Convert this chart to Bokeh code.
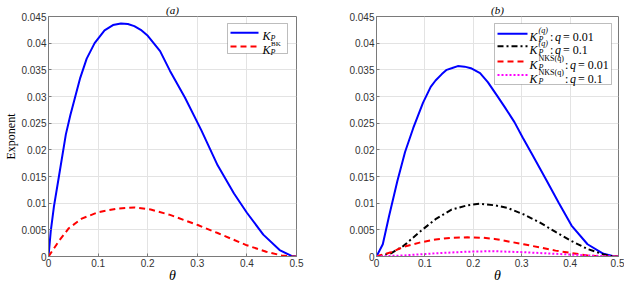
from bokeh.plotting import figure
from bokeh.layouts import row
from bokeh.models import Range1d, FixedTicker, Label, BoxAnnotation
from bokeh.embed import file_html
from bokeh.resources import INLINE

# ---------------- data ----------------
x_ticks = [0, 0.1, 0.2, 0.3, 0.4, 0.5]
x_tick_labels = ["0", "0.1", "0.2", "0.3", "0.4", "0.5"]
y_ticks = [0, 0.005, 0.01, 0.015, 0.02, 0.025, 0.03, 0.035, 0.04, 0.045]
y_tick_labels = ["0", "0.005", "0.01", "0.015", "0.02", "0.025", "0.03", "0.035", "0.04", "0.045"]

# panel (a)
a_kp_theta = [0, 0.0045, 0.011, 0.021, 0.035, 0.044, 0.054, 0.064, 0.077, 0.093, 0.113, 0.13, 0.146,
              0.16, 0.173, 0.186, 0.199, 0.225, 0.245, 0.275, 0.308, 0.341, 0.374, 0.400, 0.433, 0.466, 0.49, 0.5]
a_kp_val = [0, 0.0047, 0.0094, 0.015, 0.0229, 0.0265, 0.030, 0.0335, 0.0371, 0.040, 0.0424, 0.0434, 0.0437,
            0.0436, 0.0432, 0.0425, 0.0415, 0.0385, 0.0348, 0.0298, 0.0237, 0.0171, 0.0118, 0.0082, 0.0041, 0.0012, 0.0001, 0]
a_bk_theta = [0, 0.021, 0.041, 0.067, 0.1, 0.14, 0.173, 0.206, 0.245, 0.301, 0.341, 0.4, 0.439, 0.47, 0.49, 0.5]
a_bk_val = [0, 0.0029, 0.0053, 0.0071, 0.0083, 0.0090, 0.0092, 0.0088, 0.0078, 0.0059, 0.0044, 0.0021, 0.0009, 0.0002, 0, 0]

# panel (b)
b_q001_theta = [0, 0.013, 0.026, 0.043, 0.059, 0.076, 0.096, 0.112, 0.122, 0.135, 0.145, 0.155, 0.168, 0.182,
                0.195, 0.214, 0.23, 0.248, 0.265, 0.285, 0.302, 0.320, 0.350, 0.377, 0.403, 0.436, 0.469, 0.492, 0.5]
b_q001_val = [0, 0.0023, 0.0076, 0.0141, 0.0196, 0.0241, 0.0288, 0.0318, 0.033, 0.0342, 0.0350, 0.0353, 0.0357,
              0.0356, 0.0353, 0.0344, 0.0327, 0.0303, 0.0280, 0.0252, 0.0223, 0.0194, 0.0145, 0.0100, 0.0058,
              0.0023, 0.0005, 0, 0]
b_q01_theta = [0, 0.03, 0.056, 0.089, 0.122, 0.155, 0.188, 0.214, 0.244, 0.271, 0.304, 0.337, 0.37, 0.403,
               0.436, 0.469, 0.49, 0.5]
b_q01_val = [0, 0.0006, 0.002, 0.0046, 0.007, 0.0088, 0.0096, 0.0099, 0.0096, 0.0091, 0.0079, 0.0064, 0.0046,
             0.0029, 0.0014, 0.0004, 0, 0]
b_nks001_theta = [0, 0.03, 0.056, 0.089, 0.122, 0.155, 0.188, 0.221, 0.244, 0.304, 0.37, 0.436, 0.47, 0.5]
b_nks001_val = [0, 0.0008, 0.0018, 0.0026, 0.0032, 0.0035, 0.0036, 0.0035, 0.0033, 0.0023, 0.0011, 0.0002, 0, 0]
b_nks01_theta = [0, 0.056, 0.122, 0.188, 0.24, 0.304, 0.37, 0.436, 0.49, 0.5]
b_nks01_val = [0, 0.0002, 0.0006, 0.0009, 0.001, 0.0008, 0.0005, 0.0002, 0, 0]

SERIF = "Liberation Serif"
SANS = "Liberation Sans"
AX_COLOR = "#7a7a7a"
TICK_TEXT = "#333333"
FIG_H = 285
TOP = 15           # frame top (canvas px)
EST_FRAME_H = 242  # approximate frame height, only used to place legend swatches


def make_fig(title, width, left, right, ylabel=None):
    p = figure(width=width, height=FIG_H, x_range=Range1d(0, 0.5), y_range=Range1d(0, 0.045),
               output_backend="svg", toolbar_location=None,
               min_border_left=left, min_border_right=right, min_border_top=TOP, min_border_bottom=0)
    p.title.text = title
    p.title.align = "center"
    p.title.text_font = SERIF
    p.title.text_font_style = "italic"
    p.title.text_font_size = "11px"
    p.title.text_color = "#000000"
    p.title.standoff = 2
    p.title.offset = 0
    p.outline_line_color = AX_COLOR
    p.outline_line_width = 1
    for ax in (p.xaxis[0], p.yaxis[0]):
        ax.axis_line_color = AX_COLOR
        ax.major_tick_line_color = AX_COLOR
        ax.major_tick_in = 3
        ax.major_tick_out = 0
        ax.minor_tick_line_color = None
        ax.major_label_text_font = SANS
        ax.major_label_text_font_size = "10px"
        ax.major_label_text_color = TICK_TEXT
        ax.major_label_standoff = 2
    p.xaxis.ticker = FixedTicker(ticks=x_ticks)
    p.yaxis.ticker = FixedTicker(ticks=y_ticks)
    p.xaxis.major_label_overrides = dict(zip(x_ticks, x_tick_labels))
    p.yaxis.major_label_overrides = dict(zip(y_ticks, y_tick_labels))
    p.xaxis.axis_label = "θ"
    p.xaxis.axis_label_text_font = SERIF
    p.xaxis.axis_label_text_font_style = "italic"
    p.xaxis.axis_label_text_font_size = "14px"
    p.xaxis.axis_label_text_color = "#000000"
    p.xaxis.axis_label_standoff = -2
    if ylabel:
        p.yaxis.axis_label = ylabel
        p.yaxis.axis_label_text_font = SERIF
        p.yaxis.axis_label_text_font_style = "normal"
        p.yaxis.axis_label_text_font_size = "12px"
        p.yaxis.axis_label_text_color = "#000000"
        p.yaxis.axis_label_standoff = 0
    p.xgrid.ticker = FixedTicker(ticks=x_ticks)
    p.ygrid.ticker = FixedTicker(ticks=y_ticks)
    p.grid.grid_line_color = "#e3e3e3"
    p.grid.grid_line_width = 1
    return p


def txt(p, x, y, s, size, style="italic"):
    # x, y in canvas pixels (y downwards); y is the text baseline
    p.add_layout(Label(x=x, y=y, x_units="canvas", y_units="canvas", text=s, text_font=SERIF,
                       text_font_size=size, text_font_style=style, text_color="#000000",
                       text_align="left", text_baseline="alphabetic"))


def legend_box(p, l, r, t, b):
    p.add_layout(BoxAnnotation(left=l, right=r, top=t, bottom=b, left_units="canvas", right_units="canvas",
                               top_units="canvas", bottom_units="canvas", fill_color="white", fill_alpha=1,
                               line_color="#262626", line_width=1, level="underlay"))


def swatch(p, frame_left, frame_w, x1, x2, y, **kw):
    # legend sample line, converted from canvas px to data units
    xd = [(x1 - frame_left) / frame_w * 0.5, (x2 - frame_left) / frame_w * 0.5]
    yd = 0.045 * (1 - (y - TOP) / EST_FRAME_H)
    p.line(xd, [yd, yd], line_width=2, **kw)


# ---------------- panel (a) ----------------
WA, LA, RA = 310, 48, 14
pa = make_fig("(a)", WA, LA, RA, ylabel="Exponent")
pa.line(a_kp_theta, a_kp_val, line_color="#0000ff", line_width=2)
pa.line(a_bk_theta, a_bk_val, line_color="#ff0000", line_width=2, line_dash="6 4")
fr = WA - RA
bl, bt = fr - 9 - 60, TOP + 8
legend_box(pa, bl, fr - 9, bt, bt + 30)
rows_a = [bt + 8.3, bt + 22.3]
swatch(pa, LA, WA - LA - RA, bl + 3, bl + 31, rows_a[0], line_color="#0000ff")
swatch(pa, LA, WA - LA - RA, bl + 3, bl + 31, rows_a[1], line_color="#ff0000", line_dash="6 4")
kx = bl + 35
for c in rows_a:
    txt(pa, kx, c + 4, "K", "12px")
    txt(pa, kx + 8, c + 6.5, "P", "8px")
txt(pa, kx + 8.5, rows_a[1] - 1.5, "BK", "7px", style="normal")

# ---------------- panel (b) ----------------
WB, LB, RB = 314, 66, 6
pb = make_fig("(b)", WB, LB, RB)
pb.line(b_q001_theta, b_q001_val, line_color="#0000ff", line_width=2)
pb.line(b_q01_theta, b_q01_val, line_color="#000000", line_width=2, line_dash="6 3 2 3")
pb.line(b_nks001_theta, b_nks001_val, line_color="#ff0000", line_width=2, line_dash="6 4")
pb.line(b_nks01_theta, b_nks01_val, line_color="#ff00ff", line_width=2, line_dash="2 2")
fr = WB - RB
bl, bt = fr - 7 - 117, TOP + 8
legend_box(pb, bl, fr - 7, bt, bt + 61)
rows_b = [bt + 9.4, bt + 22, bt + 37.4, bt + 51]
styles_b = [dict(line_color="#0000ff"), dict(line_color="#000000", line_dash="6 3 2 3"),
            dict(line_color="#ff0000", line_dash="6 4"), dict(line_color="#ff00ff", line_dash="2 2")]
texts_b = [("(q)", 9.4, "= 0.01"), ("(q)", 9.4, "= 0.1"), ("NKS(q)", 24.5, "= 0.01"), ("NKS(q)", 24.5, "= 0.1")]
kx = bl + 35
for c, st, (sup, w, rest) in zip(rows_b, styles_b, texts_b):
    swatch(pb, LB, WB - LB - RB, bl + 3, bl + 33, c, **st)
    base = c + 4
    txt(pb, kx, base, "K", "12px")
    txt(pb, kx + 9, base - 6, sup, "8px", style="italic" if sup == "(q)" else "normal")
    txt(pb, kx + 9, base + 3, "P", "8px")
    S = kx + 9 + w
    txt(pb, S + 2, base, ":", "12px", style="normal")
    txt(pb, S + 7, base, "q", "12px")
    txt(pb, S + 15, base, rest, "12px", style="normal")

layout = row(pa, pb)
open("out.html", "w").write(file_html(layout, INLINE))
